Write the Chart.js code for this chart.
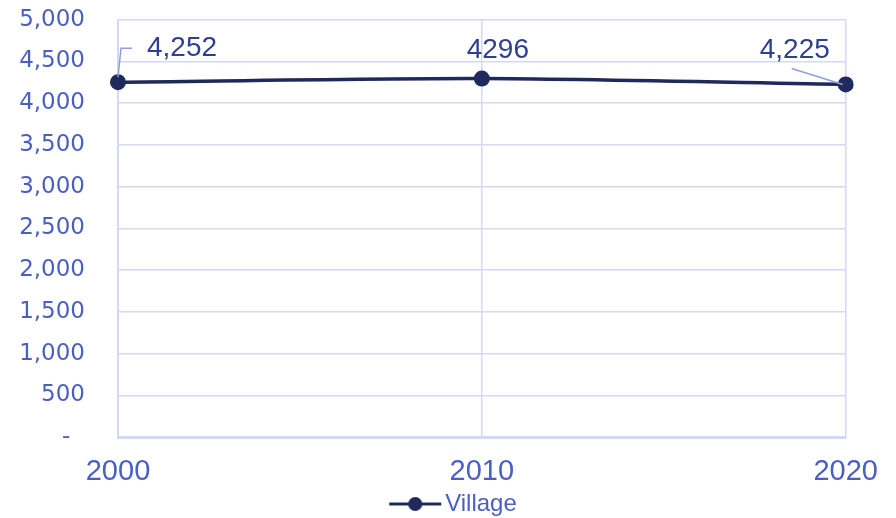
<!DOCTYPE html>
<html>
<head>
<meta charset="utf-8">
<script src="https://cdn.jsdelivr.net/npm/chart.js@4"></script>
<style>
  html, body { margin: 0; padding: 0; background: #fff; }
  #wrap { width: 896px; height: 518px; }
</style>
</head>
<body>
<div id="wrap"><canvas id="chart" width="896" height="518"></canvas></div>
<script>
// Chart data
const years = ['2000', '2010', '2020'];
const villageValues = [4252, 4296, 4225];
const valueLabels = ['4,252', '4296', '4,225'];
const yTicks = [0, 500, 1000, 1500, 2000, 2500, 3000, 3500, 4000, 4500, 5000];

const LINE_COLOR = '#1f2a5c';
const TICK_COLOR = '#4a5fc1';
const LABEL_COLOR = '#2f3f92';
const GRID_COLOR = '#d3d9f1';

// Legend marker: a short line with a dot on it (drawn in the right part of the image)
function legendMarker() {
    const c = document.createElement('canvas');
    c.width = 74;
    c.height = 18;
    const g = c.getContext('2d');
    g.strokeStyle = LINE_COLOR;
    g.lineWidth = 3;
    g.beginPath();
    g.moveTo(20, 9);
    g.lineTo(72, 9);
    g.stroke();
    g.fillStyle = LINE_COLOR;
    g.beginPath();
    g.arc(46, 9, 7, 0, Math.PI * 2);
    g.fill();
    return c;
}

// Value labels with leader lines, placed relative to each point
const labelPlacement = [
    { dx: 64, dy: -34, leader: [[0, -5], [3, -34], [14, -34]] },
    { dx: 16, dy: -28, leader: null },
    { dx: -51, dy: -34, leader: [[-3, 0], [-54, -16]] }
];

const valueLabelPlugin = {
    id: 'valueLabels',
    afterDatasetsDraw(chart) {
        const ctx = chart.ctx;
        const meta = chart.getDatasetMeta(0);
        ctx.save();
        meta.data.forEach((pt, i) => {
            const p = labelPlacement[i];
            if (p.leader) {
                ctx.strokeStyle = '#8f9fdc';
                ctx.lineWidth = 1.5;
                ctx.beginPath();
                p.leader.forEach(([lx, ly], k) => {
                    if (k === 0) ctx.moveTo(pt.x + lx, pt.y + ly);
                    else ctx.lineTo(pt.x + lx, pt.y + ly);
                });
                ctx.stroke();
            }
            ctx.fillStyle = LABEL_COLOR;
            ctx.font = '28px "Liberation Sans", sans-serif';
            ctx.textAlign = 'center';
            ctx.textBaseline = 'middle';
            ctx.fillText(valueLabels[i], pt.x + p.dx, pt.y + p.dy);
        });
        ctx.restore();
    }
};

document.addEventListener('DOMContentLoaded', () => {
    const ctx = document.getElementById('chart').getContext('2d');
    new Chart(ctx, {
        type: 'line',
        data: {
            labels: years,
            datasets: [{
                label: 'Village',
                data: villageValues,
                borderColor: LINE_COLOR,
                backgroundColor: LINE_COLOR,
                borderWidth: 3.5,
                pointRadius: 8,
                pointHoverRadius: 8,
                pointBackgroundColor: LINE_COLOR,
                pointBorderWidth: 0,
                tension: 0.25
            }]
        },
        options: {
            responsive: false,
            animation: false,
            layout: { padding: { left: 0, right: 0, top: 0, bottom: -8 } },
            scales: {
                x: {
                    offset: false,
                    grid: { color: GRID_COLOR, lineWidth: 1.5, drawTicks: false },
                    border: { color: GRID_COLOR, width: 3 },
                    ticks: {
                        color: TICK_COLOR,
                        font: { family: '"Liberation Sans Narrow", sans-serif', size: 29 },
                        padding: 18,
                        maxRotation: 0
                    },
                    afterFit(scale) { scale.height = 55; }
                },
                y: {
                    min: 0,
                    max: 5000,
                    afterBuildTicks(scale) {
                        scale.ticks = yTicks.map(v => ({ value: v }));
                    },
                    grid: {
                        color: GRID_COLOR,
                        lineWidth: 1.5,
                        drawTicks: true,
                        tickLength: 27,
                        tickColor: 'rgba(0,0,0,0)'
                    },
                    border: { color: GRID_COLOR, width: 2 },
                    ticks: {
                        color: TICK_COLOR,
                        font: { family: '"DejaVu Sans", sans-serif', size: 23 },
                        padding: 6,
                        callback: v => v === 0 ? '-  ' : v.toLocaleString('en-US')
                    },
                    afterFit(scale) { scale.width = 118; }
                }
            },
            plugins: {
                legend: {
                    position: 'bottom',
                    labels: {
                        color: TICK_COLOR,
                        font: { family: '"Liberation Sans Narrow", sans-serif', size: 24 },
                        usePointStyle: true,
                        pointStyleWidth: 54,
                        padding: 0,
                        generateLabels() {
                            return [{
                                text: 'Village',
                                pointStyle: legendMarker(),
                                fillStyle: LINE_COLOR,
                                strokeStyle: LINE_COLOR,
                                lineWidth: 0,
                                fontColor: TICK_COLOR,
                                datasetIndex: 0
                            }];
                        }
                    }
                },
                tooltip: { enabled: false }
            }
        },
        plugins: [valueLabelPlugin]
    });
});
</script>
</body>
</html>
